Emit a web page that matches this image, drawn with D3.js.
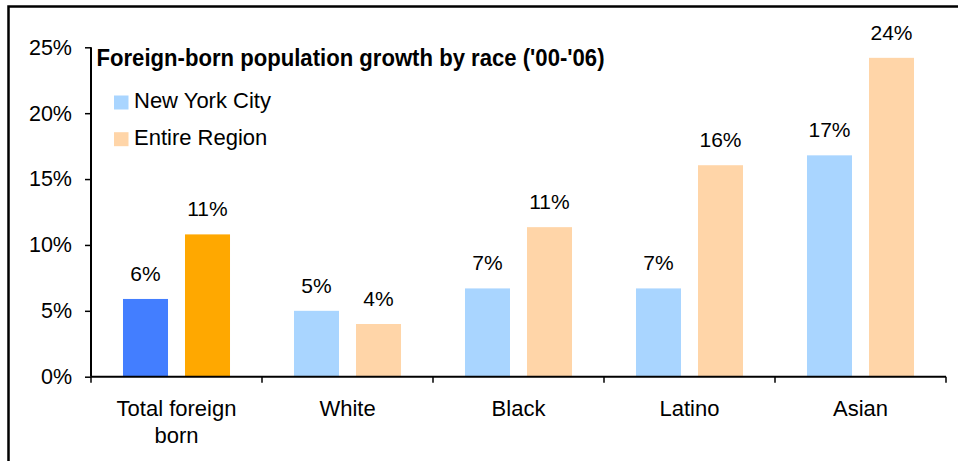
<!DOCTYPE html>
<html>
<head>
<meta charset="utf-8">
<script src="https://cdn.jsdelivr.net/npm/d3@7"></script>
<style>
  html, body { margin: 0; padding: 0; background: #fff; }
  svg { display: block; font-family: "Liberation Sans", Arial, sans-serif; }
</style>
</head>
<body>
<svg id="chart" width="958" height="461"></svg>
<script>
// Foreign-born population growth, 2000-2006 (percent)
const categories = ["Total foreign born", "White", "Black", "Latino", "Asian"];
const seriesNames = ["New York City", "Entire Region"];
const nycValues = [5.9, 5.0, 6.7, 6.7, 16.8];
const regionValues = [10.8, 4.0, 11.35, 16.05, 24.2];
const yTicks = [0, 5, 10, 15, 20, 25];
const titleText = "Foreign-born population growth by race ('00-'06)";

const svg = d3.select("#chart");

// Frame around the whole chart (runs off the right and bottom edges)
svg.append("rect")
  .attr("x", 8.5).attr("y", 6.5)
  .attr("width", 1000).attr("height", 500)
  .attr("fill", "none").attr("stroke", "#000").attr("stroke-width", 2.5);

const plot = { left: 91, right: 946, top: 47.3, bottom: 376.7 };

const x0 = d3.scaleBand().domain(categories).range([plot.left, plot.right]).padding(0);
const x1 = d3.scaleBand().domain(seriesNames).range([0, x0.bandwidth()])
  .paddingInner(0.274).paddingOuter(0.516);
const y = d3.scaleLinear().domain([0, 25]).range([plot.bottom, plot.top]);

// Normal and highlighted palettes (first category is the total, drawn in strong colours)
const lightColor = d3.scaleOrdinal().domain(seriesNames).range(["#A9D5FF", "#FFD5A8"]);
const strongColor = d3.scaleOrdinal().domain(seriesNames).range(["#437EFF", "#FFA800"]);

const rows = categories.map((c, i) => ({
  category: c,
  values: [
    { series: seriesNames[0], value: nycValues[i] },
    { series: seriesNames[1], value: regionValues[i] }
  ]
}));

const fmt = v => d3.format(".0f")(v) + "%";

const groups = svg.append("g").selectAll("g.cat")
  .data(rows).join("g")
  .attr("class", "cat")
  .attr("transform", d => `translate(${x0(d.category)},0)`);

groups.selectAll("rect")
  .data((d, i) => d.values.map(v => ({ ...v, idx: i })))
  .join("rect")
  .attr("x", d => x1(d.series))
  .attr("width", x1.bandwidth())
  .attr("y", d => y(d.value))
  .attr("height", d => y(0) - y(d.value))
  .attr("fill", d => d.idx === 0 ? strongColor(d.series) : lightColor(d.series));

groups.selectAll("text.val")
  .data(d => d.values)
  .join("text")
  .attr("class", "val")
  .attr("x", d => x1(d.series) + x1.bandwidth() / 2)
  .attr("y", d => y(d.value) - 18)
  .attr("text-anchor", "middle")
  .attr("font-size", 21)
  .attr("fill", "#000")
  .text(d => fmt(d.value));

// Y axis
const yAxis = d3.axisLeft(y).tickValues(yTicks).tickFormat(d => d + "%")
  .tickSize(6).tickPadding(13);
const yg = svg.append("g").attr("transform", `translate(${plot.left},0)`).call(yAxis);
yg.select(".domain").attr("stroke", "#000").attr("stroke-width", 2)
  .attr("d", `M-0,${plot.top}V${plot.bottom}`);
yg.selectAll(".tick line").attr("stroke", "#000").attr("stroke-width", 1.5);
yg.selectAll(".tick text").attr("font-size", 21.5).attr("fill", "#000")
  .attr("font-family", "Liberation Sans, Arial, sans-serif");

// X axis with ticks at category boundaries
const xg = svg.append("g").attr("transform", `translate(0,${plot.bottom})`);
xg.append("line").attr("x1", plot.left).attr("x2", plot.right)
  .attr("stroke", "#000").attr("stroke-width", 2);
const boundaries = categories.map(c => x0(c)).concat([plot.right]);
xg.selectAll("line.tick").data(boundaries).join("line")
  .attr("class", "tick")
  .attr("x1", d => d).attr("x2", d => d)
  .attr("y1", 0).attr("y2", 6)
  .attr("stroke", "#000").attr("stroke-width", 1.5);

const xLabels = xg.selectAll("text.cat").data(categories).join("text")
  .attr("class", "cat")
  .attr("x", d => x0(d) + x0.bandwidth() / 2)
  .attr("y", 39.5)
  .attr("text-anchor", "middle")
  .attr("font-size", 22)
  .attr("fill", "#000");

// Wrap long category names onto several lines
xLabels.each(function (d) {
  const t = d3.select(this);
  const words = d.split(" ");
  const cx = +t.attr("x");
  let line = [];
  let tspan = t.append("tspan").attr("x", cx).attr("dy", 0);
  words.forEach(w => {
    line.push(w);
    tspan.text(line.join(" "));
    if (tspan.node().getComputedTextLength() > 150 && line.length > 1) {
      line.pop();
      tspan.text(line.join(" "));
      line = [w];
      tspan = t.append("tspan").attr("x", cx).attr("dy", 27).text(w);
    }
  });
});

// Title
svg.append("text")
  .attr("x", 96.5).attr("y", 66)
  .attr("font-size", 24)
  .attr("font-weight", "bold")
  .attr("fill", "#000")
  .attr("textLength", 508)
  .attr("lengthAdjust", "spacingAndGlyphs")
  .text(titleText);

// Legend
const legend = svg.append("g").selectAll("g").data(seriesNames).join("g")
  .attr("transform", (d, i) => `translate(114,${95.5 + i * 36.7})`);
legend.append("rect").attr("width", 14.5).attr("height", 14)
  .attr("fill", d => lightColor(d));
legend.append("text").attr("x", 20).attr("y", 12.5)
  .attr("font-size", 22).attr("fill", "#000")
  .text(d => d);
</script>
</body>
</html>
